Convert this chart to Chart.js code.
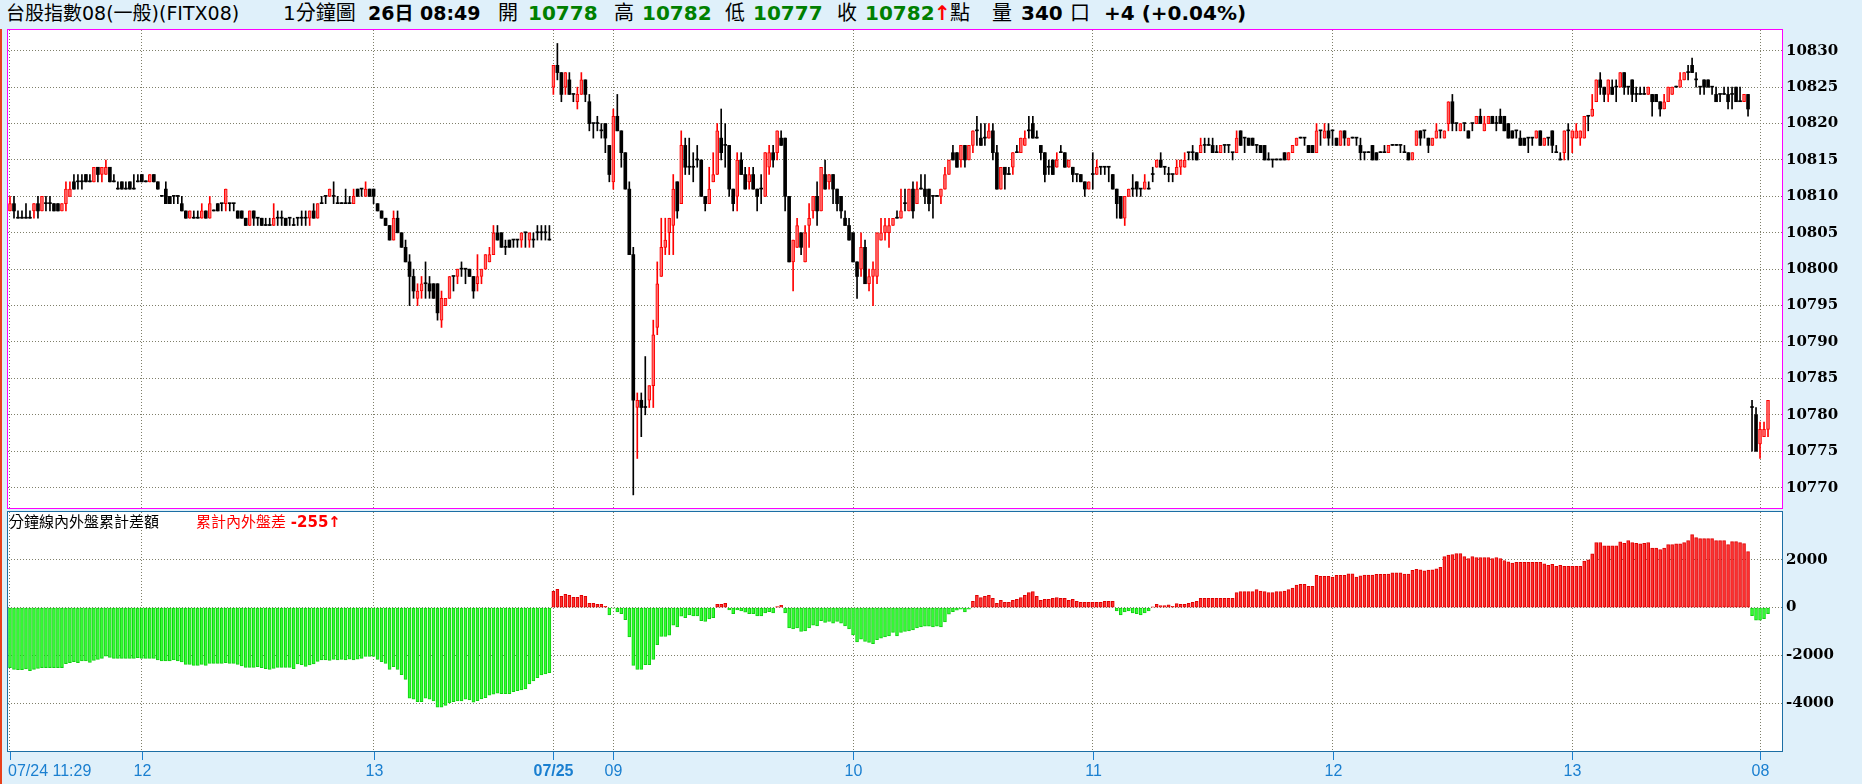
<!DOCTYPE html>
<html>
<head>
<meta charset="utf-8">
<script src="https://cdn.jsdelivr.net/npm/chart.js@4.4.1/dist/chart.umd.min.js"></script>
<style>
  body { margin: 0; width: 1862px; height: 784px; overflow: hidden; position: relative; background: #dff0fa;
         font-family: "DejaVu Sans", "Noto Sans CJK TC", sans-serif; }
  canvas { position: absolute; left: 0; top: 0; }
  .h { position: absolute; top: 1px; font-size: 20px; line-height: 24px; white-space: nowrap; color: #000; }
  .b { font-weight: bold; }
  .g { color: #008000; font-weight: bold; }
  .r { color: #ff0000; font-weight: bold; }
  .t { position: absolute; top: 513px; font-size: 15px; line-height: 18px; white-space: nowrap; z-index: 2; }
  #edge { position: absolute; left: 0; top: 29px; width: 2px; height: 755px; background: #e8401a; }
</style>
</head>
<body>
<div class="h" style="left:6px;font-size:19px">台股指數08(一般)(FITX08)</div>
<div class="h" style="left:283px">1分鐘圖</div>
<div class="h b" style="left:368px;font-size:19px">26日 08:49</div>
<div class="h" style="left:498px">開</div>
<div class="h g" style="left:528px">10778</div>
<div class="h" style="left:614px">高</div>
<div class="h g" style="left:642px">10782</div>
<div class="h" style="left:725px">低</div>
<div class="h g" style="left:753px">10777</div>
<div class="h" style="left:837px">收</div>
<div class="h g" style="left:865px">10782</div>
<div class="h r" style="left:934px">↑</div>
<div class="h" style="left:950px">點</div>
<div class="h" style="left:992px">量</div>
<div class="h b" style="left:1021px">340</div>
<div class="h" style="left:1070px">口</div>
<div class="h b" style="left:1104px">+4 (+0.04%)</div>

<canvas id="priceChart" width="1862" height="784"></canvas>
<canvas id="diffChart" width="1862" height="784"></canvas>
<div id="edge"></div>
<div class="t" style="left:9px;color:#000">分鐘線內外盤累計差額</div>
<div class="t" style="left:196px;color:#ff0000">累計內外盤差 <b>-255</b><b>↑</b></div>

<script>
// 1-minute bars: 07/24 11:29-13:44, 07/25 08:45-13:44, 26th 08:45-08:49
const openP = [
  10808,10809,10807,10807,10807,10807,10808,10809,10808,10809, 10809,10809,10809,10808,10809,10810,10812,10812,10812,10813,
  10812,10812,10814,10813,10813,10814,10812,10811,10812,10811, 10812,10811,10812,10813,10812,10812,10813,10812,10810,10811,
  10810,10810,10810,10809,10808,10807,10807,10807,10807,10808, 10807,10808,10809,10809,10809,10809,10809,10808,10808,10807,
  10806,10808,10807,10807,10806,10806,10806,10807,10807,10807, 10807,10806,10807,10807,10807,10807,10808,10807,10809,10810,
  10810,10810,10809,10809,10809,10809,10809,10811,10811,10810, 10811,10811,10809,10808,10807,10806,10804,10807,10805,10803,
  10801,10799,10796,10797,10798,10798,10798,10798,10793,10795, 10796,10799,10799,10800,10800,10800,10799,10798,10799,10800,
  10801,10802,10805,10805,10803,10804,10804,10804,10804,10805, 10804,10804,10805,10805,10805,10804,
  10825,10828,10827,10825,10826,10824,10823,10824,10826,10823, 10820,10820,10819,10820,10817,10812,10821,10819,10816,10811,
  10802,10781,10782,10781,10782,10784,10792,10799,10803,10805, 10806,10812,10809,10817,10814,10814,10815,10815,10810,10809,
  10812,10813,10818,10817,10817,10811,10810,10815,10813,10812, 10813,10811,10811,10810,10814,10816,10816,10818,10818,10810,
  10801,10803,10805,10801,10806,10808,10810,10808,10813,10812, 10813,10811,10810,10807,10806,10805,10801,10800,10803,10798,
  10799,10799,10804,10805,10805,10806,10807,10807,10809,10808, 10811,10809,10811,10811,10811,10810,10810,10810,10811,10813,
  10816,10816,10815,10817,10815,
  10817,10819,10818,10818,10818,10819,10816,10811,10814,10813, 10814,10816,10816,10817,10819,10820,10818,10817,10816,10814,
  10815,10814,10816,10816,10814,10814,10813,10813,10812,10811, 10813,10813,10814,10814,10814,10813,10811,10810,10807,10810,
  10811,10812,10811,10811,10811,10813,10814,10815,10814,10813, 10813,10813,10814,10814,10816,10816,10816,10816,10817,10817,
  10817,10816,10816,10817,10817,10816,10816,10819,10818,10818, 10818,10817,10817,10817,10815,10815,10815,10815,10816,10815,
  10816,10817,10818,10818,10817,10817,10816,10819,10818,10819,
  10819,10818,10817,10819,10817,10818,10818,10817,10816,10816, 10817,10816,10816,10816,10816,10817,10817,10817,10816,10816,
  10815,10817,10819,10819,10818,10817,10818,10819,10818,10820, 10823,10820,10819,10820,10819,10820,10820,10821,10819,10820,
  10821,10820,10821,10821,10820,10819,10819,10818,10818,10818, 10818,10818,10819,10817,10818,10819,10816,10815,10816,10819,
  10818,10818,10818,10818,10821,10821,10823,10826,10825,10824, 10825,10825,10825,10827,10825,10826,10824,10824,10824,10824,
  10824,10824,10823,10822,10823,10824,10825,10825,10826,10827, 10828,10826,10825,10826,10826,10825,10824,10824,10824,10824,
  10824,10825,10823,10823,10824,
  10781,10780,10776,10777,10778
];
const highP = [
  10810,10810,10808,10808,10809,10808,10809,10810,10810,10810, 10810,10809,10809,10809,10812,10812,10813,10813,10813,10813,
  10813,10814,10814,10814,10815,10814,10813,10812,10812,10812, 10812,10813,10813,10813,10812,10813,10813,10812,10810,10812,
  10810,10810,10810,10810,10808,10808,10808,10808,10809,10808, 10810,10808,10809,10809,10811,10809,10809,10808,10808,10807,
  10808,10808,10807,10807,10807,10807,10809,10808,10808,10807, 10807,10807,10807,10808,10808,10808,10809,10809,10810,10810,
  10811,10812,10810,10809,10811,10810,10811,10811,10811,10812, 10811,10811,10809,10808,10807,10806,10808,10808,10805,10804,
  10802,10800,10798,10799,10801,10799,10798,10798,10797,10796, 10799,10799,10800,10801,10800,10800,10799,10802,10800,10802,
  10803,10806,10806,10805,10804,10804,10804,10804,10805,10805, 10805,10805,10806,10806,10806,10806,
  10828,10831,10827,10827,10827,10824,10825,10827,10826,10824, 10820,10821,10820,10820,10817,10822,10824,10819,10816,10812,
  10803,10783,10783,10788,10784,10793,10801,10807,10807,10807, 10813,10812,10819,10818,10818,10816,10817,10815,10810,10814,
  10816,10820,10822,10820,10817,10811,10816,10816,10814,10814, 10814,10811,10813,10816,10817,10817,10819,10819,10818,10810,
  10804,10807,10805,10806,10809,10810,10812,10814,10815,10813, 10813,10811,10810,10808,10807,10805,10801,10805,10804,10800,
  10801,10805,10807,10807,10807,10807,10808,10811,10811,10811, 10812,10812,10813,10813,10811,10810,10810,10811,10814,10815,
  10817,10816,10817,10817,10817,
  10819,10821,10820,10820,10820,10820,10817,10814,10814,10814, 10816,10817,10818,10819,10821,10821,10819,10817,10816,10815,
  10815,10816,10817,10816,10815,10814,10813,10813,10812,10812, 10816,10815,10814,10814,10814,10813,10811,10810,10810,10811,
  10813,10812,10811,10813,10812,10814,10815,10816,10814,10814, 10813,10815,10815,10816,10816,10817,10816,10818,10818,10818,
  10818,10817,10817,10817,10817,10816,10819,10819,10818,10818, 10818,10817,10817,10817,10816,10815,10815,10815,10816,10816,
  10817,10818,10818,10818,10817,10817,10820,10819,10820,10820,
  10819,10818,10819,10819,10818,10818,10818,10818,10816,10816, 10817,10816,10816,10817,10817,10817,10817,10817,10817,10816,
  10816,10819,10819,10819,10818,10818,10820,10819,10819,10823, 10824,10820,10820,10820,10819,10820,10821,10822,10821,10821,
  10821,10821,10822,10821,10820,10819,10819,10819,10818,10818, 10818,10819,10819,10818,10818,10819,10817,10816,10819,10820,
  10819,10820,10819,10821,10821,10824,10826,10827,10825,10826, 10826,10826,10827,10827,10825,10826,10825,10825,10825,10825,
  10824,10824,10823,10824,10825,10825,10825,10827,10827,10828, 10829,10827,10825,10826,10826,10825,10825,10824,10825,10825,
  10825,10825,10825,10824,10824,
  10782,10781,10779,10779,10782
];
const lowP = [
  10808,10807,10807,10807,10807,10807,10807,10807,10808,10808, 10808,10808,10808,10808,10808,10810,10811,10811,10811,10812,
  10812,10812,10812,10812,10813,10812,10812,10811,10811,10811, 10811,10811,10812,10812,10812,10812,10812,10811,10810,10809,
  10809,10809,10809,10808,10807,10807,10807,10807,10807,10807, 10807,10808,10808,10808,10808,10808,10808,10807,10807,10806,
  10806,10806,10806,10806,10806,10806,10806,10806,10806,10806, 10806,10806,10806,10806,10806,10806,10807,10807,10809,10809,
  10810,10809,10809,10809,10809,10809,10809,10810,10810,10810, 10810,10809,10808,10807,10806,10804,10804,10805,10803,10801,
  10795,10796,10795,10796,10796,10796,10796,10793,10792,10795, 10796,10797,10798,10799,10798,10799,10796,10797,10798,10800,
  10801,10802,10804,10803,10802,10803,10803,10803,10803,10803, 10803,10803,10804,10804,10804,10804,
  10824,10826,10823,10824,10824,10823,10822,10824,10823,10819, 10818,10819,10818,10816,10812,10811,10819,10814,10811,10802,
  10769,10774,10777,10780,10781,10781,10791,10799,10802,10802, 10802,10807,10809,10813,10813,10812,10814,10810,10808,10809,
  10812,10813,10815,10814,10810,10808,10808,10813,10811,10811, 10811,10808,10809,10810,10813,10814,10815,10817,10808,10801,
  10797,10803,10802,10801,10803,10807,10806,10808,10811,10811, 10809,10808,10807,10806,10804,10801,10796,10799,10798,10797,
  10795,10798,10804,10804,10803,10806,10807,10807,10808,10808, 10807,10809,10811,10809,10808,10807,10810,10809,10811,10813,
  10815,10814,10814,10814,10815,
  10816,10817,10817,10817,10818,10815,10811,10811,10811,10813, 10813,10816,10816,10817,10818,10818,10818,10815,10812,10813,
  10813,10814,10816,10814,10814,10812,10812,10812,10810,10811, 10811,10813,10813,10813,10812,10811,10807,10807,10806,10810,
  10810,10810,10810,10811,10811,10812,10814,10814,10813,10812, 10812,10813,10813,10814,10815,10815,10815,10816,10816,10817,
  10816,10816,10816,10816,10816,10815,10816,10817,10816,10817, 10817,10816,10816,10815,10815,10814,10815,10815,10815,10815,
  10816,10817,10818,10817,10816,10816,10816,10817,10818,10817,
  10817,10817,10817,10817,10817,10818,10817,10815,10815,10816, 10815,10815,10816,10816,10816,10817,10817,10816,10816,10815,
  10815,10817,10817,10818,10816,10817,10818,10818,10818,10819, 10819,10819,10819,10819,10818,10819,10820,10820,10819,10820,
  10820,10819,10820,10819,10818,10818,10818,10817,10817,10816, 10817,10818,10817,10817,10817,10816,10816,10815,10815,10815,
  10816,10818,10817,10818,10819,10821,10823,10824,10823,10823, 10824,10823,10825,10824,10824,10823,10823,10824,10824,10824,
  10821,10823,10821,10822,10823,10824,10825,10825,10826,10826, 10827,10825,10824,10824,10825,10824,10823,10823,10824,10822,
  10822,10823,10823,10823,10821,
  10775,10775,10774,10777,10777
];
const closeP = [
  10809,10808,10807,10807,10807,10807,10809,10808,10810,10809, 10809,10808,10808,10809,10811,10811,10811,10812,10812,10812,
  10812,10814,10813,10814,10814,10812,10812,10811,10811,10811, 10811,10811,10812,10812,10812,10813,10812,10811,10810,10809,
  10809,10810,10810,10808,10807,10808,10807,10807,10808,10807, 10809,10808,10808,10809,10811,10809,10809,10807,10807,10806,
  10808,10807,10807,10806,10806,10806,10807,10807,10807,10806, 10807,10806,10807,10807,10807,10808,10807,10809,10809,10810,
  10811,10810,10809,10809,10809,10809,10810,10810,10811,10811, 10810,10810,10808,10807,10806,10804,10807,10805,10803,10801,
  10799,10797,10797,10798,10798,10797,10796,10794,10796,10796, 10799,10799,10800,10800,10800,10799,10797,10799,10800,10802,
  10802,10805,10804,10803,10803,10803,10804,10804,10805,10805, 10805,10804,10805,10805,10805,10804,
  10828,10827,10824,10827,10824,10824,10824,10826,10824,10820, 10820,10820,10819,10818,10813,10821,10819,10816,10811,10802,
  10782,10782,10781,10781,10784,10791,10798,10803,10804,10807, 10811,10808,10817,10814,10814,10814,10815,10810,10809,10811,
  10813,10819,10816,10817,10811,10809,10815,10813,10811,10813, 10811,10810,10811,10816,10816,10815,10819,10817,10810,10801,
  10804,10806,10803,10805,10807,10810,10808,10814,10811,10813, 10811,10809,10808,10806,10804,10801,10799,10803,10798,10799,
  10800,10805,10805,10806,10806,10807,10807,10808,10809,10811, 10808,10811,10811,10810,10809,10810,10810,10811,10813,10815,
  10815,10814,10817,10815,10817,
  10819,10819,10817,10818,10819,10816,10811,10814,10813,10813, 10816,10816,10818,10818,10819,10818,10818,10816,10813,10814,
  10813,10815,10816,10814,10815,10813,10813,10812,10811,10812, 10813,10814,10814,10814,10814,10811,10809,10807,10810,10811,
  10811,10811,10811,10812,10811,10813,10815,10814,10814,10813, 10813,10814,10815,10815,10816,10816,10815,10817,10817,10817,
  10816,10816,10817,10817,10817,10816,10818,10817,10818,10817, 10817,10817,10816,10815,10815,10815,10815,10815,10815,10816,
  10817,10818,10818,10818,10816,10816,10819,10819,10819,10818,
  10819,10817,10819,10818,10818,10818,10818,10816,10816,10816, 10815,10815,10816,10816,10817,10817,10817,10817,10816,10815,
  10816,10819,10818,10819,10817,10818,10819,10819,10819,10823, 10820,10820,10820,10820,10818,10820,10821,10820,10820,10821,
  10820,10820,10820,10819,10818,10818,10819,10817,10817,10818, 10818,10819,10817,10818,10818,10817,10816,10815,10819,10819,
  10819,10819,10819,10821,10821,10822,10826,10825,10824,10826, 10824,10825,10827,10825,10825,10824,10824,10824,10824,10825,
  10823,10823,10822,10823,10825,10825,10825,10826,10827,10827, 10827,10826,10825,10825,10825,10825,10823,10824,10824,10823,
  10824,10823,10823,10824,10822,
  10781,10775,10778,10778,10782
];
// cumulative buy/sell difference per minute
const cumDiff = [
  -2514,-2583,-2597,-2597,-2570,-2639,-2583,-2542,-2514,-2514, -2514,-2514,-2514,-2514,-2347,-2306,-2264,-2306,-2236,-2236,
  -2292,-2208,-2167,-2125,-2028,-2083,-2125,-2125,-2125,-2125, -2125,-2125,-2097,-2125,-2125,-2125,-2125,-2194,-2236,-2236,
  -2236,-2194,-2236,-2278,-2375,-2375,-2417,-2417,-2375,-2417, -2333,-2333,-2333,-2333,-2306,-2333,-2333,-2375,-2444,-2500,
  -2500,-2500,-2472,-2514,-2556,-2583,-2542,-2500,-2500,-2500, -2500,-2556,-2361,-2389,-2458,-2403,-2361,-2250,-2194,-2194,
  -2208,-2167,-2194,-2167,-2194,-2153,-2194,-2153,-2125,-2042, -2042,-2042,-2167,-2264,-2333,-2583,-2472,-2583,-2806,-3000,
  -3792,-3833,-3931,-3931,-3792,-3833,-3903,-4167,-4167,-4097, -3986,-3931,-3903,-3903,-3833,-3861,-3958,-3889,-3819,-3764,
  -3667,-3625,-3583,-3597,-3597,-3597,-3514,-3472,-3444,-3403, -3194,-3069,-2931,-2819,-2778,-2722,
  680,764,472,556,514,430,430,514,472,180, 180,139,139,56,-306,-20,-180,-250,-500,-1222,
  -2417,-2583,-2583,-2389,-2389,-2167,-1556,-1208,-1208,-1153, -736,-806,-361,-417,-306,-347,-347,-542,-583,-472,
  -417,139,139,180,-97,-250,-97,-139,-194,-250, -250,-347,-347,-222,-167,-222,42,97,-222,-847,
  -889,-847,-1000,-972,-847,-736,-764,-542,-625,-583, -653,-583,-653,-764,-889,-1139,-1431,-1319,-1417,-1458,
  -1514,-1347,-1278,-1222,-1181,-1042,-1181,-1042,-1000,-972, -931,-847,-806,-778,-778,-806,-778,-806,-597,-278,
  -167,-111,-70,-181,-70,
  264,514,417,472,514,389,181,306,222,222, 306,347,417,514,625,667,472,306,347,347,
  389,417,389,389,306,347,264,222,222,222, 222,222,222,264,264,264,-139,-306,-181,-139,
  -222,-250,-306,-222,-139,28,139,83,83,111, 56,167,139,139,181,222,264,389,389,389,
  389,389,389,389,389,389,625,667,667,667, 667,750,694,667,625,625,667,667,694,750,
  819,944,972,972,889,889,1347,1306,1306,1306,
  1278,1347,1347,1347,1417,1417,1278,1333,1361,1361, 1361,1389,1389,1389,1403,1458,1458,1458,1403,1403,
  1556,1597,1583,1542,1569,1583,1625,1681,2139,2194, 2222,2264,2264,2139,2056,2139,2097,2097,2097,2097,
  2056,2097,2056,1972,1917,1861,1889,1889,1889,1889, 1889,1889,1889,1833,1764,1806,1722,1764,1722,1722,
  1722,1722,1722,1944,1999,2250,2722,2722,2583,2583, 2583,2583,2750,2694,2806,2722,2694,2667,2694,2722,
  2486,2486,2431,2486,2639,2639,2667,2667,2722,2806, 3056,2931,2889,2889,2889,2889,2806,2806,2806,2639,
  2764,2764,2722,2681,2347,
  -333,-528,-528,-458,-255
];

const tickIdx = [0, 33, 91, 136, 151, 211, 271, 331, 391, 438];
const tickText = ['07/24 11:29', '12', '13', '07/25', '09', '10', '11', '12', '13', '08'];
const priceTicks = [10770, 10775, 10780, 10785, 10790, 10795, 10800, 10805, 10810, 10815, 10820, 10825, 10830];
const diffTicks = [-4000, -2000, 0, 2000];

const slots = Array.from({ length: 444 }, (_, i) => i);
const gridColor = '#7f7f6a';
const axisFont = { family: '"DejaVu Serif"', size: 15, weight: 'bold' };

function framePlugin(color) {
  return {
    id: 'frame',
    beforeDraw(chart) {
      const a = chart.chartArea, c = chart.ctx;
      c.save();
      c.fillStyle = '#fff';
      c.fillRect(a.left, a.top, a.right - a.left, a.bottom - a.top);
      c.restore();
    },
    afterDraw(chart) {
      const a = chart.chartArea, c = chart.ctx;
      c.save();
      c.strokeStyle = color;
      c.lineWidth = 1;
      c.strokeRect(a.left - 0.5, a.top - 0.5, a.right - a.left + 1, a.bottom - a.top + 1);
      c.restore();
    }
  };
}

function xAxis() {
  return {
    type: 'category',
    offset: true,
    grid: { color: gridColor, offset: false, drawTicks: false },
    border: { display: false, dash: [1, 2] },
    ticks: { display: false, autoSkip: false },
    afterBuildTicks: axis => { axis.ticks = tickIdx.map(v => ({ value: v })); },
    afterFit: axis => { axis.height = 0; }
  };
}

function yAxis(min, max, ticks) {
  return {
    position: 'right',
    min: min,
    max: max,
    grid: { color: gridColor, drawTicks: false },
    border: { display: false, dash: [1, 2] },
    ticks: { color: '#000', font: axisFont, padding: 4, callback: v => String(v) },
    afterBuildTicks: axis => { axis.ticks = ticks.map(v => ({ value: v })); },
    afterFit: axis => { axis.width = 80; }
  };
}

const isUp = closeP.map((c, i) => c > openP[i]);

new Chart(document.getElementById('priceChart').getContext('2d'), {
  type: 'bar',
  data: {
    labels: slots,
    datasets: [{
      label: 'body',
      order: 0,
      grouped: false,
      data: openP.map((o, i) => [o, closeP[i]]),
      backgroundColor: isUp.map(u => u ? '#ff6a6a' : '#000'),
      borderColor: isUp.map(u => u ? '#ff0000' : '#000'),
      borderWidth: isUp.map(u => u ? 1 : 0),
      borderSkipped: false,
      barThickness: 3,
      minBarLength: 1
    }, {
      label: 'wick',
      order: 1,
      grouped: false,
      data: lowP.map((l, i) => [l, highP[i]]),
      backgroundColor: isUp.map(u => u ? '#ff0000' : '#000'),
      barThickness: 1,
      minBarLength: 1
    }]
  },
  options: {
    responsive: false,
    animation: false,
    events: [],
    layout: { padding: { left: 8, top: 30, right: 0, bottom: 276 } },
    plugins: { legend: { display: false }, tooltip: { enabled: false } },
    scales: { x: xAxis(), y: yAxis(10767.2, 10832.85, priceTicks) }
  },
  plugins: [framePlugin('#ff00ff')]
});

const timeLabels = {
  id: 'timeLabels',
  afterDraw(chart) {
    const x = chart.scales.x, c = chart.ctx, bottom = chart.chartArea.bottom;
    c.save();
    c.strokeStyle = '#1a7fd0';
    c.fillStyle = '#1a7fd0';
    c.lineWidth = 1;
    c.textBaseline = 'middle';
    tickIdx.forEach((idx, k) => {
      const px = Math.round(x.getPixelForValue(idx)) + 0.5;
      c.beginPath();
      c.moveTo(px, bottom + 1);
      c.lineTo(px, bottom + 9);
      c.stroke();
      c.font = (k === 3 ? 'bold ' : '') + '16px "Liberation Sans", Arial, sans-serif';
      c.textAlign = k === 0 ? 'left' : 'center';
      c.fillText(tickText[k], k === 0 ? 8 : px, 772);
    });
    c.restore();
  }
};

new Chart(document.getElementById('diffChart').getContext('2d'), {
  type: 'bar',
  data: {
    labels: slots,
    datasets: [{
      label: 'cum',
      data: cumDiff,
      backgroundColor: cumDiff.map(v => v >= 0 ? '#ff3030' : '#33ff33'),
      borderColor: cumDiff.map(v => v >= 0 ? '#e00000' : '#10d010'),
      borderWidth: 1,
      borderSkipped: false,
      barThickness: 3
    }]
  },
  options: {
    responsive: false,
    animation: false,
    events: [],
    layout: { padding: { left: 8, top: 512, right: 0, bottom: 33 } },
    plugins: { legend: { display: false }, tooltip: { enabled: false } },
    scales: { x: xAxis(), y: yAxis(-6000, 4000, diffTicks) }
  },
  plugins: [framePlugin('#1c6ea4'), timeLabels]
});
</script>
</body>
</html>
